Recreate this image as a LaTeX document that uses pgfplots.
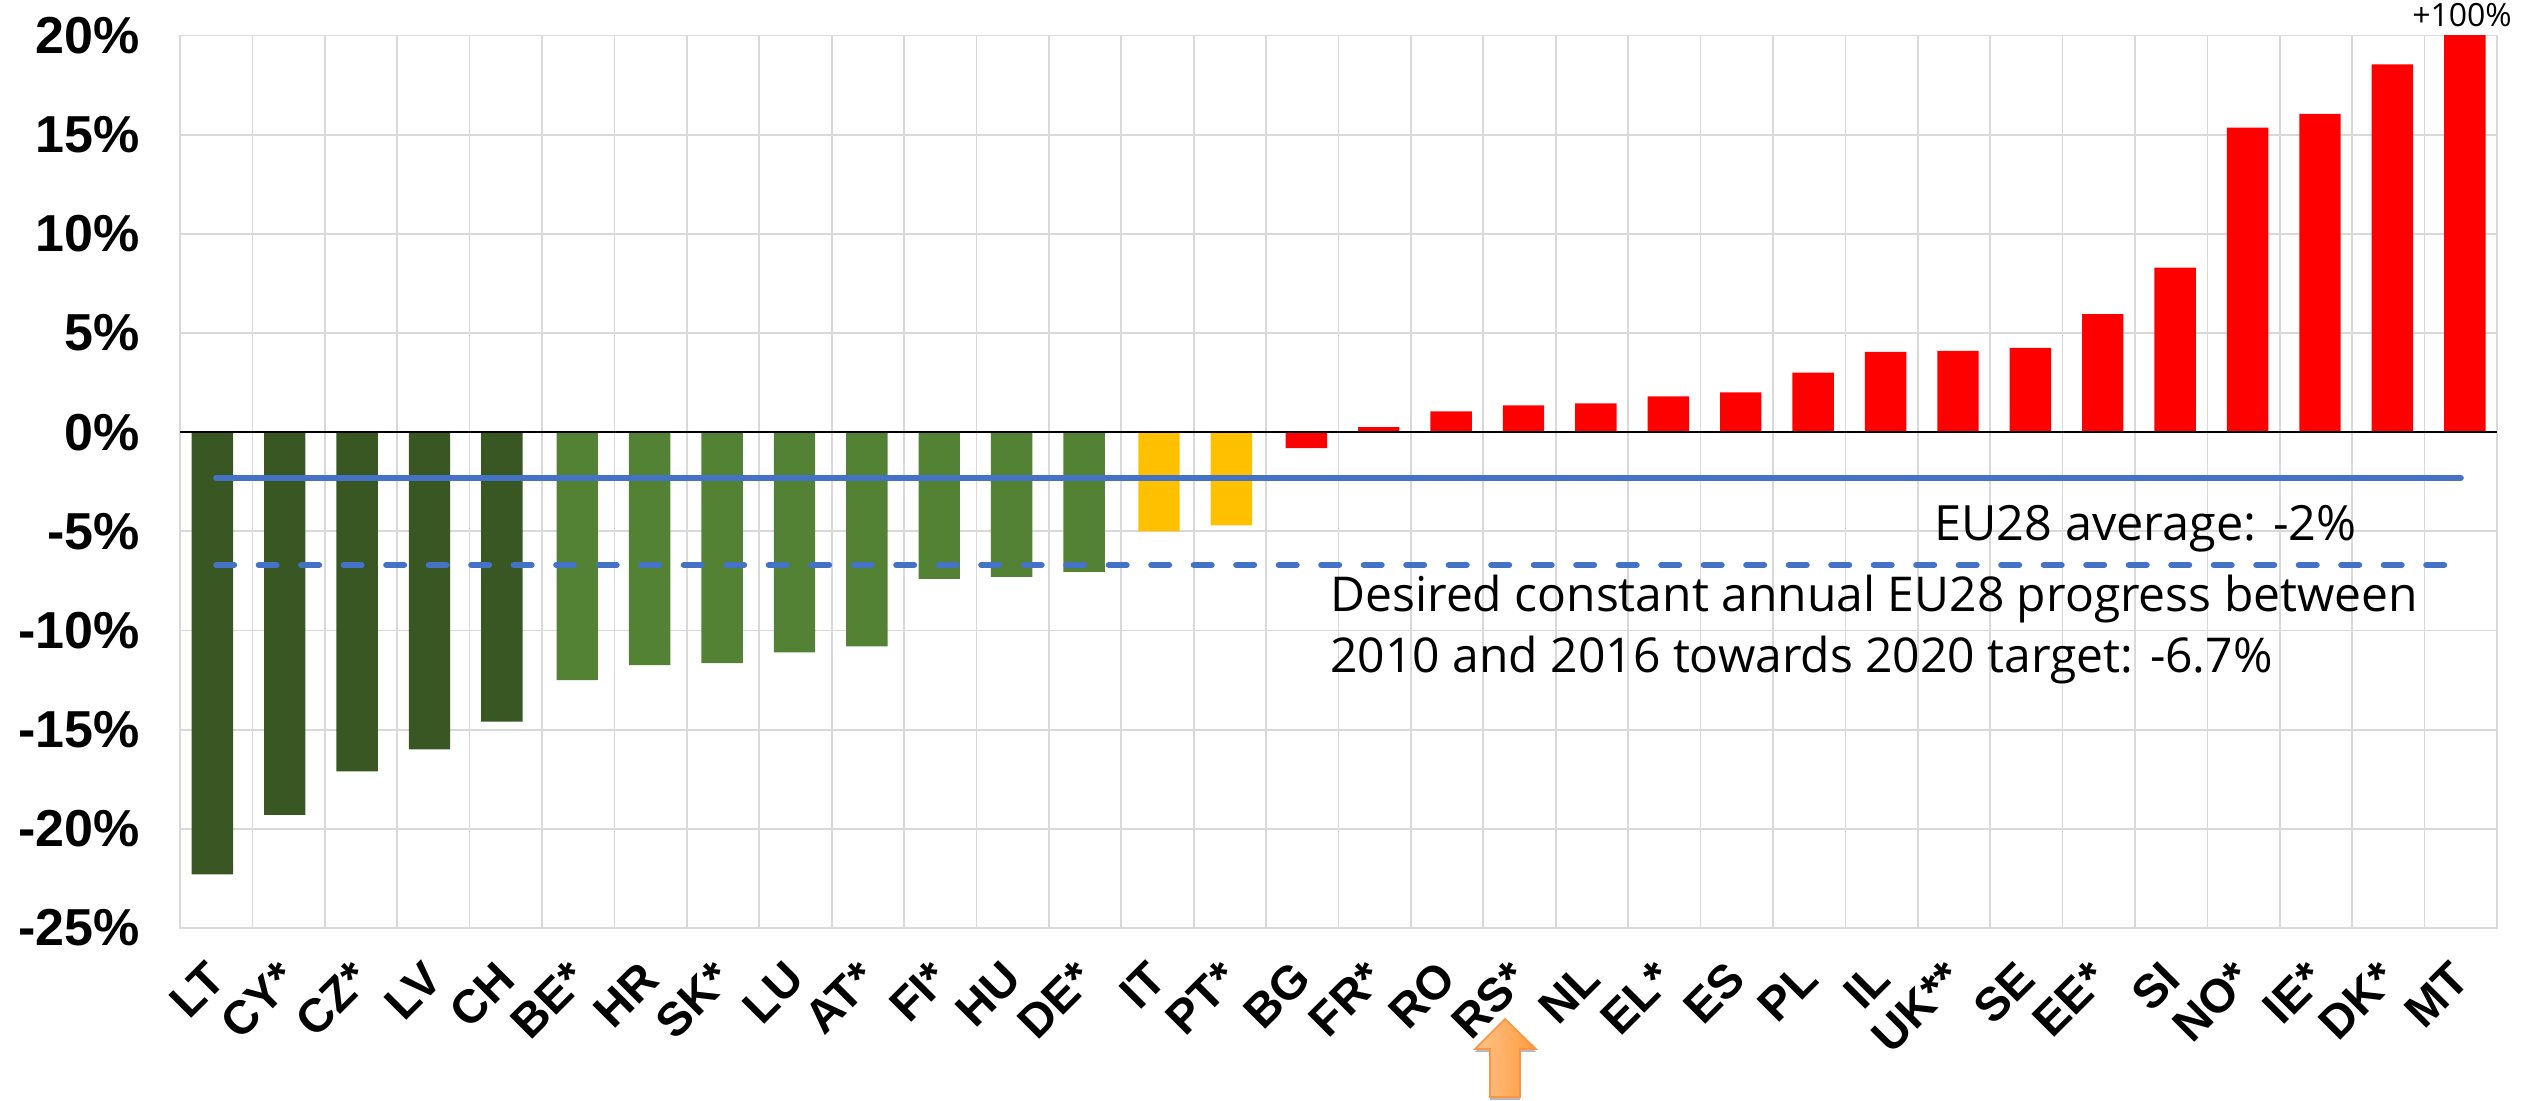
\documentclass[border=0pt]{standalone}
\usepackage{fontspec}
\setmainfont{Liberation Sans}
\newfontfamily\noteFont{Open Sans}
\usepackage{pgfplots}
\pgfplotsset{compat=1.18}
\definecolor{dgreen}{HTML}{385723}
\definecolor{mgreen}{HTML}{548235}
\definecolor{amber}{HTML}{FFC000}
\definecolor{lineblue}{HTML}{4472C4}
\definecolor{gridgrey}{HTML}{D9D9D9}
\definecolor{arrowlight}{HTML}{FFC48A}
\definecolor{arrowdark}{HTML}{FF9A3C}
\definecolor{arrowedge}{HTML}{F79646}
\begin{document}
\begin{tikzpicture}[x=1pt,y=1pt]
\path[use as bounding box] (0,0) rectangle (1263,550.5);
\begin{axis}[
  at={(90pt,86.5pt)}, anchor=south west,
  scale only axis, width=1158.5pt, height=446.25pt,
  ybar, bar width=20.7pt,
  xmin=-0.5, xmax=31.5, ymin=-25, ymax=20,
  ytick={-25,-20,...,20},
  yticklabel={\pgfmathprintnumber[assume math mode=true]{\tick}\%},
  xtick={0,...,31},
  xticklabels={LT,CY*,CZ*,LV,CH,BE*,HR,SK*,LU,AT*,FI*,HU,DE*,IT,PT*,BG,FR*,RO,RS*,NL,EL*,ES,PL,IL,UK**,SE,EE*,SI,NO*,IE*,DK*,MT},
  minor xtick={-0.5,0.5,...,31.5},
  xminorgrids=true, xmajorgrids=false, ymajorgrids=true,
  grid style={gridgrey, line width=0.85pt},
  minor grid style={gridgrey, line width=0.85pt},
  major tick length=0pt, minor tick length=0pt,
  axis line style={draw=gridgrey, line width=0.85pt},
  x tick label style={font=\fontsize{23.5}{26}\selectfont\bfseries, rotate=45, anchor=east, xshift=-11.6pt, yshift=-15pt},
  y tick label style={font=\fontsize{26}{28}\selectfont\bfseries, xshift=-16.7pt},
]
\addplot[fill=dgreen, draw=none, bar shift=-1.95pt] coordinates {(0,-22.3)(1,-19.3)(2,-17.1)(3,-16.0)(4,-14.6)};
\addplot[fill=mgreen, draw=none, bar shift=-0.5pt] coordinates {(5,-12.5)(6,-11.75)(7,-11.65)(8,-11.1)(9,-10.8)(10,-7.4)(11,-7.3)(12,-7.05)};
\addplot[fill=amber, draw=none, bar shift=0.75pt] coordinates {(13,-5.0)(14,-4.7)};
\addplot[fill=red, draw=none, bar shift=2pt] coordinates {(15,-0.8)(16,0.25)(17,1.05)(18,1.35)(19,1.45)(20,1.8)(21,2.0)(22,3.0)(23,4.05)(24,4.1)(25,4.25)(26,5.95)(27,8.3)(28,15.35)(29,16.05)(30,18.55)(31,100)};
\addplot[sharp plot, black, line width=1.1pt, forget plot] coordinates {(-0.5,0)(31.5,0)};
\addplot[sharp plot, lineblue, line width=3pt, line cap=round] coordinates {(0,-2.3)(31,-2.3)};
\addplot[sharp plot, lineblue, line width=3pt, line cap=round, dash pattern=on 9pt off 12.25pt] coordinates {(0,-6.7)(31,-6.7)};
\end{axis}
\node[anchor=west, font=\noteFont\fontsize{24.3}{30.5}\selectfont, inner sep=0pt] at (967,286) {EU28 average: -2\%};
\node[anchor=north west, align=left, font=\noteFont\fontsize{24}{30.5}\selectfont, inner sep=0pt] at (665,263) {Desired constant annual EU28 progress between\\2010 and 2016 towards 2020 target: -6.7\%};
\node[anchor=center, font=\noteFont\fontsize{16}{18}\selectfont, inner sep=0pt] at (1231,543) {+100\%};
% arrow marking RS
\fill[black, opacity=0.28] (752.5,39.5) -- (768,24.5) -- (760,24.5) -- (760,0.5) -- (745,0.5) -- (745,24.5) -- (737.5,24.5) -- cycle;
\shade[left color=arrowlight, right color=arrowdark, draw=arrowedge, line width=0.8pt] (752.5,41) -- (768,26) -- (760,26) -- (760,2) -- (745,2) -- (745,26) -- (737.5,26) -- cycle;
\end{tikzpicture}
\end{document}
